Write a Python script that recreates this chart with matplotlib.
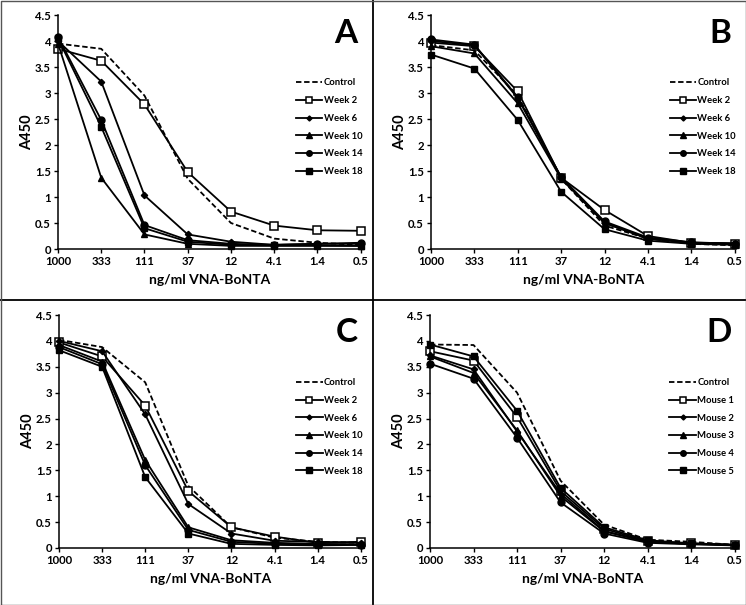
import matplotlib
matplotlib.use("Agg")
import matplotlib.pyplot as plt
from matplotlib.lines import Line2D

plt.rcParams['font.family'] = ['Lato', 'DejaVu Sans']
plt.rcParams['font.weight'] = 'bold'

concentrations = ["1000", "333", "111", "37", "12", "4.1", "1.4", "0.5"]

week_labels = ["Control", "Week 2", "Week 6", "Week 10", "Week 14", "Week 18"]
mouse_labels = ["Control", "Mouse 1", "Mouse 2", "Mouse 3", "Mouse 4", "Mouse 5"]

# Panel A
a_control = [3.95, 3.85, 2.95, 1.35, 0.50, 0.20, 0.12, 0.08]
a_week2 = [3.85, 3.62, 2.78, 1.48, 0.72, 0.45, 0.36, 0.35]
a_week6 = [4.00, 3.22, 1.03, 0.28, 0.14, 0.08, 0.10, 0.10]
a_week10 = [3.95, 1.37, 0.28, 0.10, 0.06, 0.06, 0.06, 0.06]
a_week14 = [4.08, 2.48, 0.46, 0.17, 0.10, 0.08, 0.10, 0.12]
a_week18 = [4.05, 2.35, 0.40, 0.14, 0.08, 0.07, 0.07, 0.06]

# Panel B
b_control = [3.92, 3.82, 2.95, 1.35, 0.45, 0.20, 0.10, 0.07]
b_week2 = [3.97, 3.90, 3.03, 1.37, 0.75, 0.25, 0.12, 0.10]
b_week6 = [4.00, 3.92, 2.90, 1.38, 0.50, 0.20, 0.12, 0.10]
b_week10 = [3.90, 3.76, 2.80, 1.35, 0.50, 0.20, 0.12, 0.11]
b_week14 = [4.03, 3.93, 2.92, 1.38, 0.53, 0.22, 0.13, 0.10]
b_week18 = [3.74, 3.47, 2.48, 1.10, 0.38, 0.16, 0.10, 0.08]

# Panel C
c_control = [4.02, 3.88, 3.20, 1.20, 0.40, 0.20, 0.12, 0.10]
c_week2 = [3.97, 3.70, 2.75, 1.10, 0.40, 0.22, 0.10, 0.12]
c_week6 = [4.00, 3.80, 2.58, 0.85, 0.28, 0.14, 0.12, 0.10]
c_week10 = [3.92, 3.60, 1.70, 0.40, 0.15, 0.10, 0.08, 0.07]
c_week14 = [3.88, 3.55, 1.60, 0.35, 0.12, 0.08, 0.07, 0.06]
c_week18 = [3.82, 3.50, 1.37, 0.28, 0.08, 0.06, 0.05, 0.06]

# Panel D
d_control = [3.93, 3.92, 3.00, 1.30, 0.45, 0.16, 0.12, 0.06]
d_mouse1 = [3.80, 3.62, 2.53, 1.10, 0.37, 0.13, 0.09, 0.06]
d_mouse2 = [3.72, 3.45, 2.25, 1.05, 0.33, 0.12, 0.08, 0.06]
d_mouse3 = [3.70, 3.38, 2.27, 1.00, 0.32, 0.12, 0.08, 0.06]
d_mouse4 = [3.56, 3.27, 2.13, 0.88, 0.28, 0.10, 0.07, 0.05]
d_mouse5 = [3.93, 3.70, 2.65, 1.16, 0.40, 0.15, 0.09, 0.06]

panels = [
    ("A", week_labels, [a_control, a_week2, a_week6, a_week10, a_week14, a_week18]),
    ("B", week_labels, [b_control, b_week2, b_week6, b_week10, b_week14, b_week18]),
    ("C", week_labels, [c_control, c_week2, c_week6, c_week10, c_week14, c_week18]),
    ("D", mouse_labels, [d_control, d_mouse1, d_mouse2, d_mouse3, d_mouse4, d_mouse5]),
]

styles = [
    dict(linestyle=(0, (3, 1.5)), marker=None),
    dict(linestyle='-', marker='s', markerfacecolor='white', markersize=5.5, markeredgewidth=1.1),
    dict(linestyle='-', marker='D', markerfacecolor='black', markersize=3.2),
    dict(linestyle='-', marker='^', markerfacecolor='black', markersize=5),
    dict(linestyle='-', marker='o', markerfacecolor='black', markersize=5),
    dict(linestyle='-', marker='s', markerfacecolor='black', markersize=5),
]

W, H = 746, 605
fig = plt.figure(figsize=(W / 100, H / 100), dpi=100)

# axes boxes in pixels: (left, top, right, bottom)
boxes = [
    (58, 15, 362, 249),
    (431, 15, 736, 249),
    (59, 315, 362, 548),
    (430, 315, 736, 548),
]

x = list(range(len(concentrations)))
for (letter, labels, series), (l, t, r, b) in zip(panels, boxes):
    ax = fig.add_axes([l / W, 1 - b / H, (r - l) / W, (b - t) / H])
    for lab, ys, st in zip(labels, series, styles):
        ax.plot(x, ys, color='black', linewidth=1.3, markeredgecolor='black',
                label=lab, clip_on=False, **st)
    ax.set_xlim(0, 7.03)
    ax.set_ylim(0, 4.5)
    ax.set_yticks([0, 0.5, 1, 1.5, 2, 2.5, 3, 3.5, 4, 4.5])
    ax.set_yticklabels(["0", "0.5", "1", "1.5", "2", "2.5", "3", "3.5", "4", "4.5"])
    ax.set_xticks(x)
    ax.set_xticklabels(concentrations)
    ax.tick_params(axis='both', labelsize=8.2, length=3, width=1, direction='out', pad=2)
    for s in ['top', 'right']:
        ax.spines[s].set_visible(False)
    for s in ['left', 'bottom']:
        ax.spines[s].set_linewidth(1.1)
    ax.set_ylabel("A450", fontsize=10.5, fontweight='bold', labelpad=1)
    ax.set_xlabel("ng/ml VNA-BoNTA", fontsize=10, fontweight='bold', labelpad=5)
    ax.text(0.985, 0.985, letter, transform=ax.transAxes, ha='right', va='top',
            fontsize=24, fontweight='bold')
    ax.legend(loc='upper left', bbox_to_anchor=(0.77, 0.745), frameon=False,
              fontsize=6.8, handlelength=2.8, handletextpad=0.15,
              labelspacing=0.92, borderaxespad=0, markerscale=0.8)

# panel dividers and outer border
fig.add_artist(Line2D([373 / W, 373 / W], [0, 1], color='black', linewidth=1.3))
fig.add_artist(Line2D([0, 1], [1 - 300 / H, 1 - 300 / H], color='black', linewidth=1.3))
fig.add_artist(Line2D([0.5 / W, 1 - 0.5 / W, 1 - 0.5 / W, 0.5 / W, 0.5 / W],
                      [0.5 / H, 0.5 / H, 1 - 0.5 / H, 1 - 0.5 / H, 0.5 / H],
                      color='#555555', linewidth=1.0))

fig.savefig("out.png", dpi=100)
